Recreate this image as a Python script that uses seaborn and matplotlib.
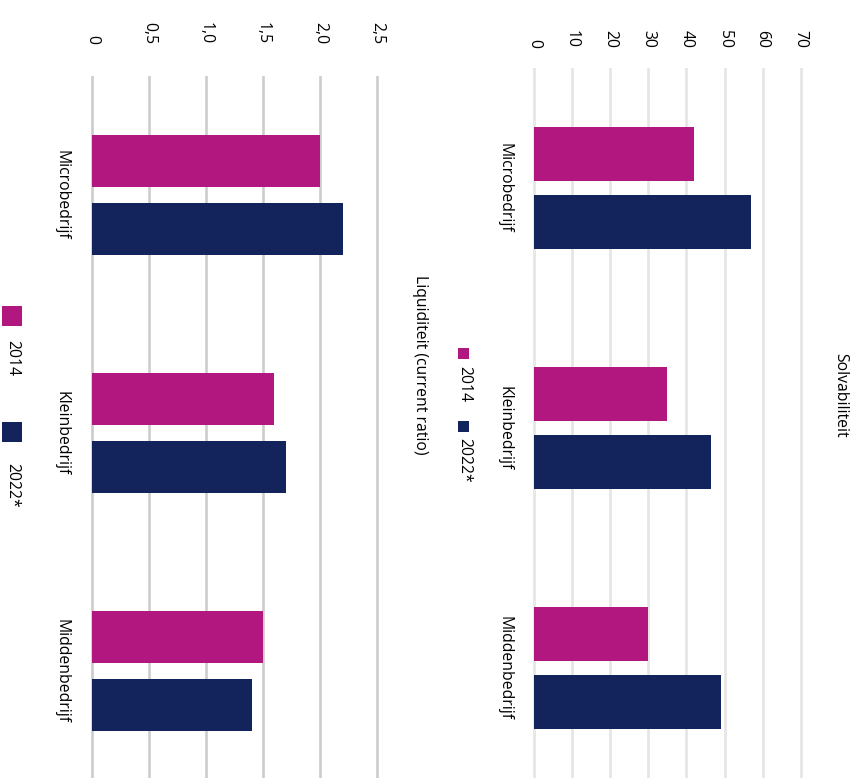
import matplotlib
matplotlib.use("Agg")
import matplotlib.pyplot as plt
from matplotlib.patches import Rectangle
import pandas as pd
import seaborn as sns

# data
categorieen = ["Microbedrijf", "Kleinbedrijf", "Middenbedrijf"]
jaren = ["2014", "2022*"]
liquiditeit_2014 = [2.0, 1.6, 1.5]
liquiditeit_2022 = [2.2, 1.7, 1.4]
solvabiliteit_2014 = [42, 35, 30]
solvabiliteit_2022 = [57, 46.5, 49]
liq_ticks = [0, 0.5, 1.0, 1.5, 2.0, 2.5]
liq_ticklabels = ["0", "0,5", "1,0", "1,5", "2,0", "2,5"]
solv_ticks = [0, 10, 20, 30, 40, 50, 60, 70]
kleuren = ["#b2177f", "#13235b"]

W, H = 861, 778
sns.set_style("white")
plt.rcParams["font.family"] = ["Open Sans", "DejaVu Sans"]
plt.rcParams["font.size"] = 11.3
plt.rcParams["text.color"] = "black"
plt.rcParams["xtick.color"] = "black"
plt.rcParams["ytick.color"] = "black"

fig = plt.figure(figsize=(W / 100, H / 100), dpi=100)


def frame(x0, y0, x1, y1):
    # pixel box (top-left origin) -> figure fraction rect
    return [x0 / W, 1 - y1 / H, (x1 - x0) / W, (y1 - y0) / H]


def make_df(v2014, v2022):
    return pd.DataFrame({
        "categorie": categorieen * 2,
        "jaar": [jaren[0]] * 3 + [jaren[1]] * 3,
        "waarde": list(v2014) + list(v2022),
    })


def draw_panel(ax, df, ticks, labels, xlim, gridcolor, xpad, ypad, width, gap):
    sns.barplot(data=df, y="categorie", x="waarde", hue="jaar", orient="h",
                palette=kleuren, saturation=1, width=width, gap=gap,
                linewidth=0, legend=False, ax=ax)
    ax.set_xlim(*xlim)
    ax.set_xticks(ticks)
    ax.set_xticklabels(labels)
    ax.xaxis.tick_top()
    ax.set_xlabel("")
    ax.set_ylabel("")
    for s in ax.spines.values():
        s.set_visible(False)
    ax.grid(axis="x", color=gridcolor, linewidth=1.9)
    ax.set_axisbelow(True)
    ax.tick_params(axis="x", length=0, pad=xpad, labelrotation=-90)
    ax.tick_params(axis="y", length=0, pad=ypad, labelrotation=-90)
    for lab in ax.get_yticklabels():
        lab.set_va("center")


# Liquiditeit (left)
ax1 = fig.add_axes(frame(92 - 0.02 * 114, 76, 92 + 2.6 * 114, 790))
draw_panel(ax1, make_df(liquiditeit_2014, liquiditeit_2022), liq_ticks,
           liq_ticklabels, (-0.02, 2.6), "#cccccc", 23, 14.5, 0.571, 0.236)

# Solvabiliteit (right)
ax2 = fig.add_axes(frame(534 - 0.5 * 3.81, 68, 534 + 72 * 3.81, 788))
draw_panel(ax2, make_df(solvabiliteit_2014, solvabiliteit_2022), solv_ticks,
           [str(t) for t in solv_ticks], (-0.5, 72), "#e5e5e5", 14.5, 14, 0.567, 0.22)

# titles
fig.text(840 / W, 1 - 395 / H, "Solvabiliteit", rotation=-90,
         ha="center", va="center")
fig.text(420 / W, 1 - 365 / H, "Liquiditeit (current ratio)", rotation=-90,
         ha="center", va="center")

# legends (drawn rotated like the rest of the chart)
def legend_item(x0, y0, size, color, tx, ty, label):
    fig.add_artist(Rectangle((x0 / W, 1 - (y0 + size) / H), size / W, size / H,
                             transform=fig.transFigure, color=color, lw=0))
    fig.text(tx / W, 1 - ty / H, label, rotation=-90, ha="center", va="center")


legend_item(458, 348, 11, kleuren[0], 464, 384, jaren[0])
legend_item(458, 421, 11, kleuren[1], 464, 460, jaren[1])
legend_item(2, 306, 20, kleuren[0], 12, 358, jaren[0])
legend_item(2, 422, 20, kleuren[1], 12, 485, jaren[1])

fig.savefig("out.png", dpi=100)
